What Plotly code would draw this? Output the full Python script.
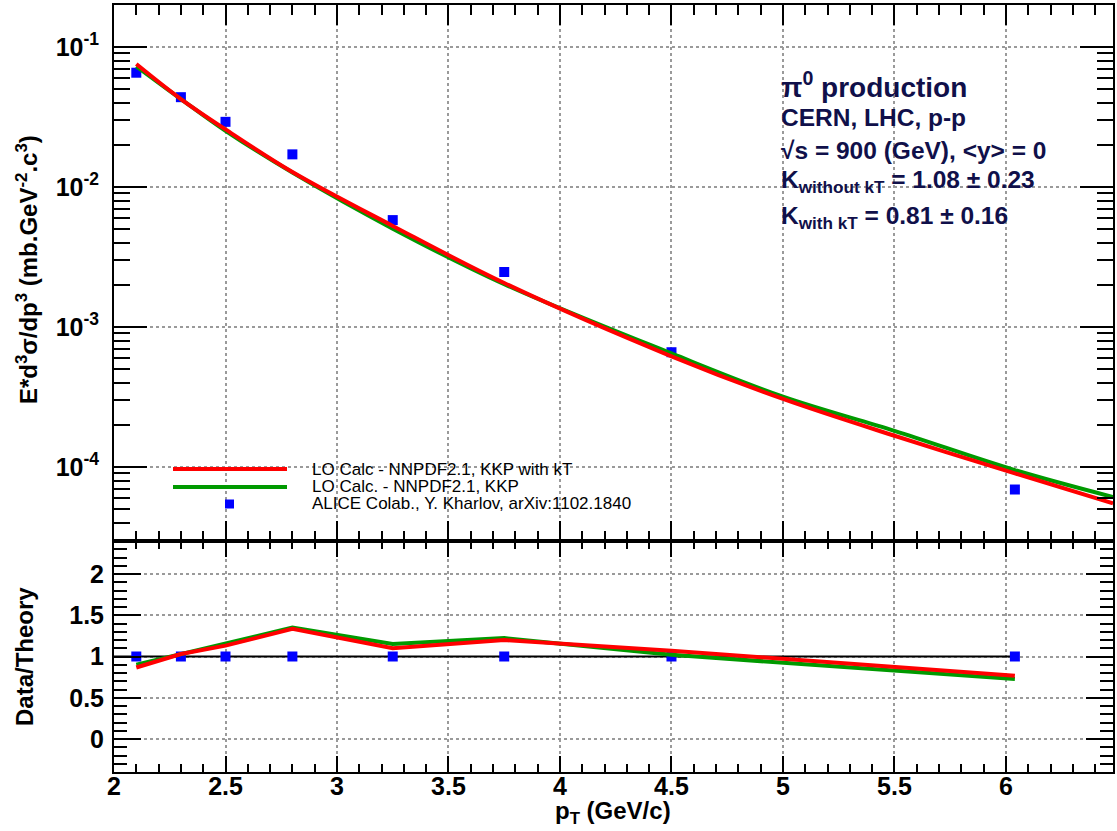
import plotly.graph_objects as go

# ---------------- data ----------------
pt_data = [2.1, 2.3, 2.5, 2.8, 3.25, 3.75, 4.5, 6.04]
alice = [0.0655, 0.0438, 0.0292, 0.0171, 0.0058, 0.00247, 6.6e-4, 6.9e-5]

pt_theory = [2.1, 2.3, 2.5, 2.8, 3.25, 3.75, 4.5, 5.0, 5.5, 6.04, 6.48]
lo_with_kt = [0.0756, 0.0425, 0.0258, 0.0128, 0.00527, 0.00206, 6.17e-4, 3.06e-4, 1.67e-4, 9.0e-5, 5.5e-5]
lo_no_kt = [0.0728, 0.0425, 0.0252, 0.01267, 0.00504, 0.00202, 6.47e-4, 3.18e-4, 1.81e-4, 9.5e-5, 6.1e-5]

names = ["LO Calc - NNPDF2.1, KKP with kT",
         "LO Calc. - NNPDF2.1, KKP",
         "ALICE Colab., Y. Kharlov, arXiv:1102.1840"]

info_lines = ["π<sup>0</sup> production",
              "CERN, LHC, p-p",
              "√s = 900 (GeV), &lt;y&gt; = 0",
              "K<sub>without kT</sub> = 1.08 ± 0.23",
              "K<sub>with kT</sub> = 0.81 ± 0.16"]

x_range = [2.0, 6.48]
decades = [1e-4, 1e-3, 1e-2, 1e-1]
decade_labels = ["10<sup>-4</sup>", "10<sup>-3</sup>", "10<sup>-2</sup>", "10<sup>-1</sup>"]

# ---------------- derived ----------------
th_kt = dict(zip(pt_theory, lo_with_kt))
th_no = dict(zip(pt_theory, lo_no_kt))
ratio_kt = [d / th_kt[p] for p, d in zip(pt_data, alice)]
ratio_no = [d / th_no[p] for p, d in zip(pt_data, alice)]
ratio_data = [d / d for d in alice]

minor_log = [k * 10.0 ** e for e in range(-5, 0) for k in range(2, 10)]

W, H = 1117, 831
RED = "#ff0000"
GREEN = "#009a00"
BLUE = "#0000ff"
NAVY = "#10104a"
FONT = "Liberation Sans"

fig = go.Figure()

# top panel
fig.add_trace(go.Scatter(x=pt_data, y=alice, mode="markers", name=names[2],
                         marker=dict(symbol="square", size=10, color=BLUE),
                         xaxis="x", yaxis="y", showlegend=False))
fig.add_trace(go.Scatter(x=pt_theory, y=lo_no_kt, mode="lines", name=names[1],
                         line=dict(color=GREEN, width=4, shape="spline"),
                         xaxis="x", yaxis="y", showlegend=False))
fig.add_trace(go.Scatter(x=pt_theory, y=lo_with_kt, mode="lines", name=names[0],
                         line=dict(color=RED, width=4, shape="spline"),
                         xaxis="x", yaxis="y", showlegend=False))

# bottom panel
fig.add_trace(go.Scatter(x=[x_range[0], pt_data[-1]], y=[1, 1], mode="lines",
                         line=dict(color="black", width=2),
                         xaxis="x2", yaxis="y2", showlegend=False, hoverinfo="skip"))
fig.add_trace(go.Scatter(x=pt_data, y=ratio_data, mode="markers",
                         marker=dict(symbol="square", size=10, color=BLUE),
                         xaxis="x2", yaxis="y2", showlegend=False))
fig.add_trace(go.Scatter(x=pt_data, y=ratio_no, mode="lines",
                         line=dict(color=GREEN, width=4),
                         xaxis="x2", yaxis="y2", showlegend=False))
fig.add_trace(go.Scatter(x=pt_data, y=ratio_kt, mode="lines",
                         line=dict(color=RED, width=4),
                         xaxis="x2", yaxis="y2", showlegend=False))

tickfont = dict(family=FONT, size=25, color="black", weight="bold")
common = dict(showline=True, linecolor="black", linewidth=2, mirror="allticks",
              ticks="inside", tickcolor="black", tickwidth=2, automargin=False,
              showgrid=True, gridcolor="#9a9a9a", griddash="dot", gridwidth=1.5,
              zeroline=False, tickfont=tickfont)

x_dom = [114 / W, 1113 / W]
top_dom = [1 - 541 / H, 1 - 5 / H]
bot_dom = [1 - 772 / H, 1 - 541 / H]

fig.update_layout(
    width=W, height=H, margin=dict(l=0, r=0, t=0, b=0, autoexpand=False),
    paper_bgcolor="white", plot_bgcolor="white", showlegend=False,
    xaxis=dict(common, domain=x_dom, range=x_range, anchor="y", tick0=2, dtick=0.5,
               ticklen=20, showticklabels=False, matches="x2",
               minor=dict(ticks="inside", dtick=0.1, tick0=2, ticklen=10,
                          tickcolor="black", tickwidth=2, showgrid=False)),
    yaxis=dict(common, domain=top_dom, type="log", range=[-4.529, -0.70], anchor="x",
               tickmode="array", tickvals=decades, ticktext=decade_labels,
               ticklen=33, ticklabelstandoff=8,
               minor=dict(ticks="inside", tickmode="array", tickvals=minor_log,
                          ticklen=16, tickcolor="black", tickwidth=2, showgrid=False)),
    xaxis2=dict(common, domain=x_dom, range=x_range, anchor="y2", tick0=2, dtick=0.5,
                ticklen=16, ticklabelstandoff=-9,
                minor=dict(ticks="inside", dtick=0.1, tick0=2, ticklen=8,
                           tickcolor="black", tickwidth=2, showgrid=False)),
    yaxis2=dict(common, domain=bot_dom, range=[-0.4, 2.4], anchor="x2",
                tick0=0, dtick=0.5, ticklen=27, ticklabelstandoff=3,
                minor=dict(ticks="inside", dtick=0.1, tick0=0, ticklen=13,
                           tickcolor="black", tickwidth=2, showgrid=False)),
)

annotations = []
# info text
info_y = [85, 118, 150, 181, 217]
info_size = [28, 24.5, 24.5, 24.5, 24.5]
for txt, yp, sz in zip(info_lines, info_y, info_size):
    annotations.append(dict(text=txt, xref="paper", yref="paper", x=779 / W, y=1 - yp / H,
                            xanchor="left", yanchor="middle", showarrow=False,
                            font=dict(family=FONT, size=sz, color=NAVY, weight="bold")))

# axis titles
annotations.append(dict(text="E*d<sup>3</sup>σ/dp<sup>3</sup> (mb.GeV<sup>-2</sup>.c<sup>3</sup>)",
                        xref="paper", yref="paper", x=27 / W, y=1 - 270 / H, textangle=-90,
                        xanchor="center", yanchor="middle", showarrow=False,
                        font=dict(family=FONT, size=24, color="black", weight="bold")))
annotations.append(dict(text="Data/Theory", xref="paper", yref="paper", x=24 / W, y=1 - 657 / H,
                        textangle=-90, xanchor="center", yanchor="middle", showarrow=False,
                        font=dict(family=FONT, size=24, color="black", weight="bold")))
annotations.append(dict(text="p<sub>T</sub> (GeV/c)", xref="paper", yref="paper",
                        x=613 / W, y=1 - 812 / H, xanchor="center", yanchor="middle",
                        showarrow=False,
                        font=dict(family=FONT, size=24, color="black", weight="bold")))

# legend (manual, ROOT style)
leg_y = [469, 487, 504]
for txt, yp in zip(names, leg_y):
    annotations.append(dict(text=txt, xref="paper", yref="paper", x=310 / W, y=1 - yp / H,
                            xanchor="left", yanchor="middle", showarrow=False,
                            font=dict(family=FONT, size=17, color="black")))
shapes = [
    dict(type="line", xref="paper", yref="paper", x0=173 / W, x1=287 / W,
         y0=1 - leg_y[0] / H, y1=1 - leg_y[0] / H, line=dict(color=RED, width=4)),
    dict(type="line", xref="paper", yref="paper", x0=173 / W, x1=287 / W,
         y0=1 - leg_y[1] / H, y1=1 - leg_y[1] / H, line=dict(color=GREEN, width=4)),
    dict(type="rect", xref="paper", yref="paper", x0=225 / W, x1=234 / W,
         y0=1 - (leg_y[2] + 4.5) / H, y1=1 - (leg_y[2] - 4.5) / H,
         fillcolor=BLUE, line=dict(width=0)),
]
fig.update_layout(annotations=annotations, shapes=shapes)

fig.write_html("out.html")
